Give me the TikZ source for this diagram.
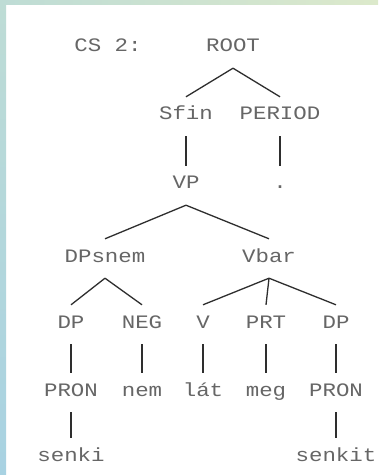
\documentclass[tikz,border=0pt]{standalone}
\usepackage{fontspec}
\usepackage{tikz}
\usetikzlibrary{positioning}
\newfontfamily\treefont[FakeStretch=1.18]{Liberation Mono}
\definecolor{labgray}{HTML}{666666}
\definecolor{brgray}{HTML}{2E2E2E}
\definecolor{edgetop}{HTML}{BEDCD5}
\definecolor{edgebot}{HTML}{A8D2E2}
\definecolor{edgeright}{HTML}{DCE9CB}

\begin{document}
\begin{tikzpicture}[x=1bp, y=-1bp,
  % north/south sit where the branches stop
  lab/.style={anchor=base, inner sep=0pt, text height=23bp, text depth=16bp,
              text=labgray, font=\treefont\fontsize{19bp}{19bp}\selectfont},
  br/.style={draw=brgray, line width=1.3bp},
]
\useasboundingbox (0,0) rectangle (378,475);
\fill[white] (0,0) rectangle (378,475);
% frame strips
\shade[top color=edgetop, bottom color=edgebot] (0,0) rectangle (6,475);
\shade[left color=edgetop, right color=edgeright] (0,0) rectangle (378,5);

\node[lab] (cs) at (108,52) {CS 2:};
\node[lab] (root) at (233,52) {ROOT};

\node[lab] (sfin) at (186,120) {Sfin};
\node[lab] (period) at (280,120) {PERIOD};

\node[lab] (vp) at (186,189) {VP};
\node[lab] (dot) at (280,189) {.};

\node[lab] (dpsnem) at (105,262) {DPsnem};
\node[lab] (vbar) at (269,262) {Vbar};

\node[lab] (dpa) at (71,328) {DP};
\node[lab] (neg) at (142,328) {NEG};
\node[lab] (v) at (203,328) {V};
\node[lab] (prt) at (266,328) {PRT};
\node[lab] (dpb) at (336,328) {DP};

\node[lab] (prona) at (71,396) {PRON};
\node[lab] (nem) at (142,396) {nem};
\node[lab] (lat) at (203,396) {lát};
\node[lab] (meg) at (266,396) {meg};
\node[lab] (pronb) at (336,396) {PRON};

\node[lab] (senki) at (71,461) {senki};
\node[lab] (senkit) at (336,461) {senkit};

\draw[br] (root.south) -- (sfin.north);
\draw[br] (root.south) -- (period.north);
\draw[br] (sfin.south) -- (vp.north);
\draw[br] (period.south) -- (dot.north);
\draw[br] (vp.south) -- (dpsnem.north);
\draw[br] (vp.south) -- (vbar.north);
\draw[br] (dpsnem.south) -- (dpa.north);
\draw[br] (dpsnem.south) -- (neg.north);
\draw[br] (vbar.south) -- (v.north);
\draw[br] (vbar.south) -- (prt.north);
\draw[br] (vbar.south) -- (dpb.north);
\draw[br] (dpa.south) -- (prona.north);
\draw[br] (neg.south) -- (nem.north);
\draw[br] (v.south) -- (lat.north);
\draw[br] (prt.south) -- (meg.north);
\draw[br] (dpb.south) -- (pronb.north);
\draw[br] (prona.south) -- (senki.north);
\draw[br] (pronb.south) -- (senkit.north);
\end{tikzpicture}
\end{document}
